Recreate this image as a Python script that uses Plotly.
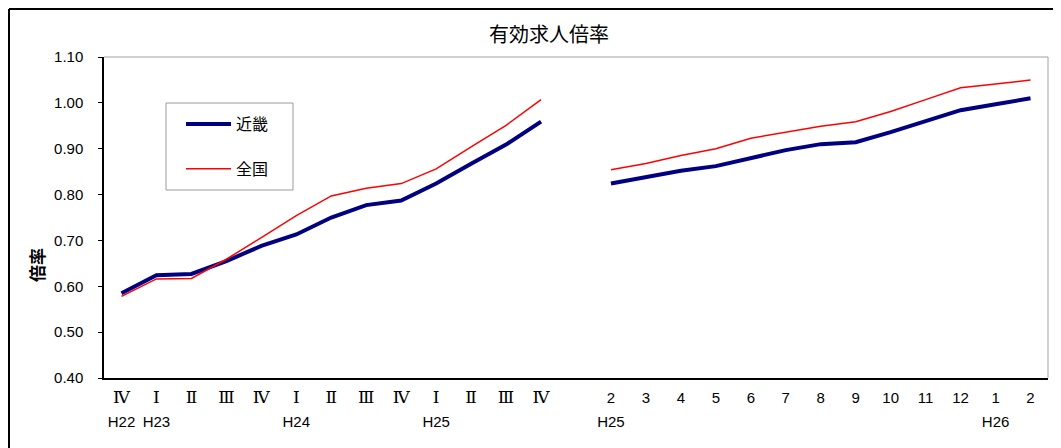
import plotly.graph_objects as go

quarter_labels = ["Ⅳ", "Ⅰ", "Ⅱ", "Ⅲ", "Ⅳ", "Ⅰ", "Ⅱ", "Ⅲ", "Ⅳ", "Ⅰ", "Ⅱ", "Ⅲ", "Ⅳ"]
quarter_years = ["H22", "H23", "", "", "", "H24", "", "", "", "H25", "", "", ""]
month_labels = ["2", "3", "4", "5", "6", "7", "8", "9", "10", "11", "12", "1", "2"]
month_years = ["H25", "", "", "", "", "", "", "", "", "", "", "H26", ""]

kinki_q = [0.585, 0.624, 0.627, 0.655, 0.688, 0.713, 0.750, 0.777, 0.787, 0.824, 0.867, 0.909, 0.959]
zenkoku_q = [0.578, 0.616, 0.617, 0.659, 0.706, 0.754, 0.797, 0.814, 0.824, 0.856, 0.904, 0.951, 1.007]
kinki_m = [0.824, 0.838, 0.852, 0.862, 0.880, 0.897, 0.910, 0.914, 0.936, 0.961, 0.984, 0.997, 1.010]
zenkoku_m = [0.854, 0.868, 0.885, 0.900, 0.923, 0.936, 0.949, 0.959, 0.981, 1.007, 1.033, 1.041, 1.050]

nq = len(quarter_labels)
xq = list(range(nq))
xm = list(range(nq + 1, nq + 1 + len(month_labels)))
total = nq + 1 + len(month_labels)

ROMAN = '<span style="font-family:DejaVu Serif;font-size:17px">{}</span>'
SMALL = '<span style="font-size:15px">{}</span>'

tickvals = xq + xm
ticktext = [ROMAN.format(a) + "<br>" + SMALL.format(b) for a, b in zip(quarter_labels, quarter_years)] + \
           [SMALL.format(a) + "<br>" + SMALL.format(b) for a, b in zip(month_labels, month_years)]

NAVY = "#000080"
RED = "#FF0000"
FONT = "Liberation Sans, Noto Sans CJK JP, sans-serif"
JP = "Noto Sans CJK JP"

# figure sits 8px inside the page (body margin): plot area in page px 104..1048 x 57..378
L, T, R, B = 96, 49, 21, 78
PW, PH = 1061 - L - R, 448 - T - B

def px(xpage):
    return (xpage - 8 - L) / PW

def py(ypage):
    return 1 - (ypage - 8 - T) / PH

fig = go.Figure()
fig.add_trace(go.Scatter(x=xq, y=kinki_q, mode="lines", name="近畿",
                         line=dict(color=NAVY, width=4), legendgroup="a"))
fig.add_trace(go.Scatter(x=xq, y=zenkoku_q, mode="lines", name="全国",
                         line=dict(color=RED, width=1.5), legendgroup="b"))
fig.add_trace(go.Scatter(x=xm, y=kinki_m, mode="lines", name="近畿",
                         line=dict(color=NAVY, width=4), legendgroup="a", showlegend=False))
fig.add_trace(go.Scatter(x=xm, y=zenkoku_m, mode="lines", name="全国",
                         line=dict(color=RED, width=1.5), legendgroup="b", showlegend=False))

fig.update_layout(
    width=1061, height=448,
    margin=dict(l=L, r=R, t=T, b=B),
    paper_bgcolor="white", plot_bgcolor="white",
    font=dict(family=FONT, size=15, color="black"),
    title=dict(text="有効求人倍率", x=(549 - 8) / 1061, xanchor="center",
               y=1 - (35 - 8) / 448, yanchor="middle",
               font=dict(family=JP, size=20, color="black")),
    showlegend=True,
    legend=dict(x=px(181), y=py(107), xanchor="left", yanchor="top",
                borderwidth=0, bgcolor="rgba(0,0,0,0)",
                tracegroupgap=21, itemwidth=45,
                font=dict(family=JP, size=16, color="black")),
    xaxis=dict(range=[-0.5, total - 0.5], tickmode="array", tickvals=tickvals, ticktext=ticktext,
               showgrid=False, zeroline=False, showline=True, linecolor="black", linewidth=1.5,
               ticks="", tickfont=dict(size=19), tickangle=0),
    yaxis=dict(range=[0.4, 1.1], dtick=0.1, tickformat=".2f", showgrid=False, zeroline=False,
               showline=True, linecolor="black", linewidth=1.5, ticks="outside", ticklen=4,
               tickcolor="black", tickfont=dict(size=15), ticklabelstandoff=12),
)

fig.add_annotation(text="<b>倍率</b>", xref="paper", yref="paper", x=px(36), y=py(265),
                   textangle=-90, showarrow=False, xanchor="center", yanchor="middle",
                   font=dict(family=JP, size=17, color="black"))

# legend frame
fig.add_shape(type="rect", xref="paper", yref="paper", x0=px(166), x1=px(293), y0=py(190), y1=py(103),
              line=dict(color="#9a9a9a", width=1), fillcolor="white", layer="below")
# gray top/right frame of plot area
fig.add_shape(type="line", xref="paper", yref="paper", x0=0, x1=1, y0=1, y1=1,
              line=dict(color="#a0a0a0", width=1))
fig.add_shape(type="line", xref="paper", yref="paper", x0=1, x1=1, y0=0, y1=1,
              line=dict(color="#a0a0a0", width=1))
# outer chart frame (left and top edges visible)
fx = (1 - L) / PW
fy = 1 + (T - 1) / PH
fig.add_shape(type="line", xref="paper", yref="paper", x0=fx, x1=1.2, y0=fy, y1=fy,
              line=dict(color="black", width=2))
fig.add_shape(type="line", xref="paper", yref="paper", x0=fx, x1=fx, y0=fy, y1=-0.5,
              line=dict(color="black", width=2))

fig.write_html("out.html")
